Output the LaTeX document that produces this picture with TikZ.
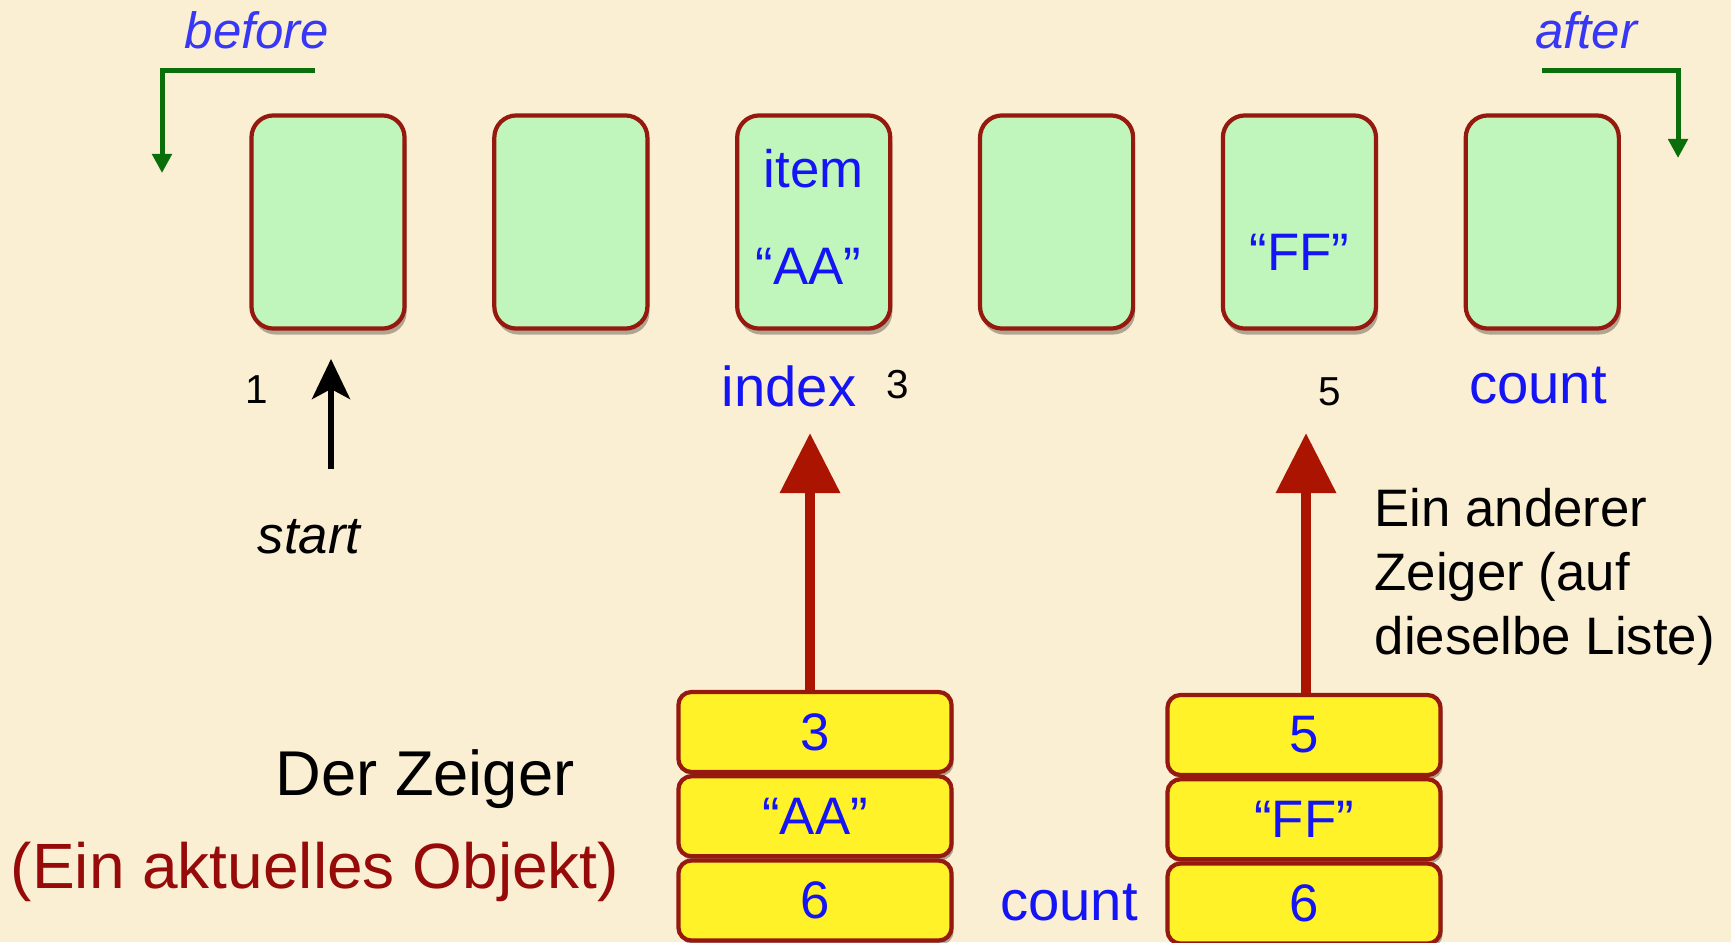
\documentclass[tikz,border=0pt]{standalone}
\usepackage{fontspec}
\setmainfont{Liberation Sans}
\usetikzlibrary{positioning, arrows.meta, shadows}

\definecolor{parchment}{RGB}{250,239,210}
\definecolor{cellgreen}{RGB}{192,246,188}
\definecolor{fieldyellow}{RGB}{255,242,40}
\definecolor{cellborder}{RGB}{150,25,15}
\definecolor{labelblue}{RGB}{20,20,245}
\definecolor{italblue}{RGB}{55,55,245}
\definecolor{ptrred}{RGB}{170,20,0}
\definecolor{objred}{RGB}{150,10,10}
\definecolor{cursorgreen}{RGB}{10,110,10}

\begin{document}
\begin{tikzpicture}[x=0.01cm, y=-0.01cm]
  \newcommand\cellgap{0.855cm}
  \newcommand\fieldgap{0cm}

  \tikzset{cell/.style={draw=cellborder, line width=1.2pt, fill=cellgreen, rounded corners=0.22cm,
      minimum width=1.53cm, minimum height=2.13cm,
      drop shadow={shadow xshift=0.02cm, shadow yshift=-0.06cm, opacity=0.3, fill=black}}}
  \tikzset{field/.style={draw=cellborder, line width=1.2pt, fill=fieldyellow, rounded corners=0.13cm,
      minimum width=2.73cm, minimum height=0.8cm, text=labelblue, font=\fontsize{15pt}{18pt}\selectfont,
      drop shadow={shadow xshift=0.02cm, shadow yshift=-0.04cm, opacity=0.3, fill=black}}}
  \tikzset{bluelbl/.style={text=labelblue, inner sep=0pt, font=\fontsize{15pt}{18pt}\selectfont}}
  \tikzset{numlbl/.style={inner sep=0pt, font=\fontsize{11.5pt}{14pt}\selectfont}}
  \tikzset{cursorlbl/.style={text=italblue, inner sep=0pt, font=\fontsize{14.5pt}{17pt}\itshape}}
  \tikzset{note/.style={inner sep=0pt, font=\fontsize{15pt}{18.2pt}\selectfont}}
  \tikzset{ptr/.style={-{Triangle[length=0.6cm, width=0.58cm]}, line width=0.1cm, draw=ptrred}}
  \tikzset{startptr/.style={-{Stealth[length=0.4cm, width=0.38cm, inset=0.1cm]}, line width=0.055cm}}
  \tikzset{cursorptr/.style={-{Triangle[length=0.19cm, width=0.19cm]}, line width=0.05cm, draw=cursorgreen}}

  \path[use as bounding box, fill=parchment] (0,0) rectangle (1731,942);

  % list cells
  \node[cell] at (328, 222) (cell1) {};
  \foreach \i [count=\prev from 1] in {2, ..., 6}{
    \node[cell, right=\cellgap of cell\prev] (cell\i) {};
  }
  \node[bluelbl] at ([yshift=0.53cm]cell3.center) (item) {item};
  \node[bluelbl] at ([xshift=-0.05cm, yshift=-0.44cm]cell3.center) (aa) {“AA”};
  \node[bluelbl] at ([yshift=-0.3cm]cell5.center) (ff) {“FF”};

  % labels under the cells
  \node[numlbl] at (257, 390) (one) {1};
  \node[bluelbl, font=\fontsize{16pt}{19pt}\selectfont] at (789, 386) (index) {index};
  \node[numlbl] at (898, 385) (three) {3};
  \node[numlbl] at (1330, 392) (five) {5};
  \node[bluelbl, font=\fontsize{16pt}{19pt}\selectfont] at (1538, 386) (count) {count};

  % before / after
  \node[cursorlbl] at (257, 30) (before) {before};
  \node[cursorlbl] at (1586, 30) (after) {after};
  \coordinate (before-a) at (315, 70);
  \coordinate (before-b) at (162, 173);
  \coordinate (after-a) at (1542, 70);
  \coordinate (after-b) at (1678, 158);
  \draw[cursorptr] (before-a) -| (before-b);
  \draw[cursorptr] (after-a) -| (after-b);

  % start
  \node[inner sep=0pt, font=\fontsize{15pt}{18pt}\itshape] at (309, 537) (start) {start};
  \coordinate (start-foot) at (331, 469);
  \coordinate (start-tip) at (331, 359);
  \draw[startptr] (start-foot) -- (start-tip);

  % the two cursor objects
  \foreach \stk/\x/\y/\idx/\itm in {a/815/732/3/{“AA”}, b/1304/735/5/{“FF”}}{
    \node[field] at (\x, \y) (\stk-1) {\idx};
    \node[field, below=\fieldgap of \stk-1] (\stk-2) {\itm};
    \node[field, below=\fieldgap of \stk-2] (\stk-3) {6};
  }
  \coordinate (a-tip) at (810, 433);
  \coordinate (b-tip) at (1306, 433);
  \draw[ptr] (a-1.north -| a-tip) -- (a-tip);
  \draw[ptr] (b-1.north -| b-tip) -- (b-tip);

  \node[bluelbl, font=\fontsize{16pt}{19pt}\selectfont] at (1069, 903) (count2) {count};

  % notes
  \node[note, align=left, anchor=west] at (1374, 577) (other) {Ein anderer\\Zeiger (auf\\dieselbe Liste)};
  \node[note, font=\fontsize{18pt}{21pt}\selectfont] at (425, 779) (cursor) {Der Zeiger};
  \node[note, text=objred, font=\fontsize{18.2pt}{21pt}\selectfont] at (315, 872) (obj) {(Ein aktuelles Objekt)};
\end{tikzpicture}
\end{document}
